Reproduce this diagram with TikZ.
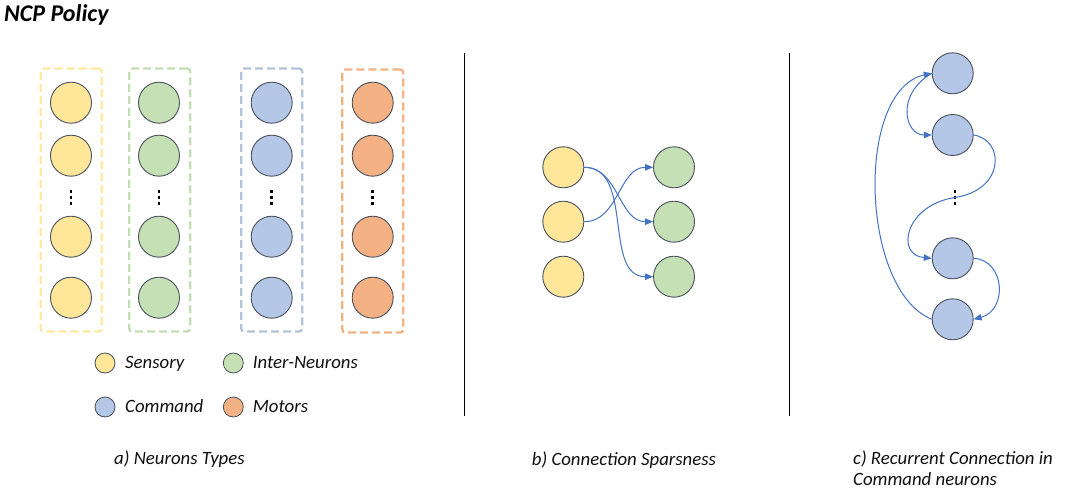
\documentclass[tikz,border=0pt]{standalone}
\usepackage{fontspec}
\setmainfont{Carlito}
\usetikzlibrary{arrows.meta}
\definecolor{ylwfill}{HTML}{FFE699}
\definecolor{grnfill}{HTML}{C5E0B4}
\definecolor{blufill}{HTML}{B4C7E7}
\definecolor{orgfill}{HTML}{F4B183}
\definecolor{ylwline}{HTML}{FFE8A0}
\definecolor{grnline}{HTML}{C5DDB5}
\definecolor{bluline}{HTML}{B5C3DA}
\definecolor{orgline}{HTML}{F1B282}
\definecolor{rim}{HTML}{48505C}
\definecolor{arrowblue}{HTML}{4472C4}
\definecolor{inktext}{HTML}{111111}
\tikzset{
  neuron/.style={circle, draw=rim, line width=0.9pt, minimum size=41pt, inner sep=0pt},
  legdot/.style={circle, draw=rim, line width=0.8pt, minimum size=20pt, inner sep=0pt},
  grpbox/.style={rectangle, rounded corners=3pt, line width=2.3pt, dash pattern=on 8pt off 4pt, minimum width=61pt, minimum height=263pt, inner sep=0pt},
  divider/.style={line width=1pt, draw=black},
  link/.style={draw=arrowblue, line width=1pt, -{Triangle[length=8pt,width=6.5pt]}},
  lbl/.style={font=\fontsize{18.8}{20.5}\selectfont\itshape, text=inktext, inner sep=0pt},
}
\begin{document}
\begin{tikzpicture}[x=1pt,y=-1pt]
\fill[white] (0,0) rectangle (1083,495);
\useasboundingbox (0,0) rectangle (1083,495);

% title
\node[font=\fontsize{24}{28}\selectfont\bfseries\itshape, text=black, anchor=base west, inner sep=0pt] (title) at (4,22) {NCP Policy};

% ---- panel a ----
\node[grpbox, draw=ylwline] (boxS) at (71.2,200) {};
\node[grpbox, draw=grnline] (boxI) at (159.7,200) {};
\node[grpbox, draw=bluline] (boxC) at (271.7,200) {};
\node[grpbox, draw=orgline] (boxM) at (372.8,201) {};

\foreach \cx/\col/\nm in {71/ylwfill/S, 159/grnfill/I, 271.7/blufill/C, 372.7/orgfill/M}{
  \node[neuron, fill=\col] (a\nm1) at (\cx,102.7) {};
  \node[neuron, fill=\col] (a\nm2) at (\cx,155.7) {};
  \node[neuron, fill=\col] (a\nm3) at (\cx,236.7) {};
  \node[neuron, fill=\col] (a\nm4) at (\cx,297.7) {};
  \foreach \dy in {191.5,197.5,203.5}{
    \fill[black] (\cx-1.3,\dy-1.3) rectangle (\cx+1.3,\dy+1.3);
  }
}

% legend
\node[legdot, fill=ylwfill] (lS) at (105,363) {};
\node[lbl, anchor=base west] (tS) at (125,368) {Sensory};
\node[legdot, fill=grnfill] (lI) at (233.3,363) {};
\node[lbl, anchor=base west] (tI) at (252.7,368) {Inter-Neurons};
\node[legdot, fill=blufill] (lC) at (105,407) {};
\node[lbl, anchor=base west] (tC) at (125,412) {Command};
\node[legdot, fill=orgfill] (lM) at (233.3,407) {};
\node[lbl, anchor=base west] (tM) at (252.7,412) {Motors};

\node[lbl, anchor=base west] (capA) at (114,464) {a) Neurons Types};

% dividers
\coordinate (d1t) at (464.5,53);
\coordinate (d1b) at (464.5,416);
\coordinate (d2t) at (789.5,53);
\coordinate (d2b) at (789.5,416);
\draw[divider] (d1t) -- (d1b);
\draw[divider] (d2t) -- (d2b);

% ---- panel b ----
\node[neuron, fill=ylwfill] (bS1) at (563.3,167.3) {};
\node[neuron, fill=ylwfill] (bS2) at (563.3,221.7) {};
\node[neuron, fill=ylwfill] (bS3) at (563.3,276.7) {};
\node[neuron, fill=grnfill] (bI1) at (674,167.3) {};
\node[neuron, fill=grnfill] (bI2) at (674,221.7) {};
\node[neuron, fill=grnfill] (bI3) at (674,276.7) {};

\draw[link] (bS1.east) to[out=0,in=180] (bI2.west);
\draw[link] (bS1.east) to[out=0,in=180] (bI3.west);
\draw[link] (bS2.east) to[out=0,in=180] (bI1.west);

\node[lbl, anchor=base west] (capB) at (531.7,465) {b) Connection Sparsness};

% ---- panel c ----
\node[neuron, fill=blufill] (c1) at (952.7,73.3) {};
\node[neuron, fill=blufill] (c2) at (952.7,135) {};
\node[neuron, fill=blufill] (c3) at (952.7,258.3) {};
\node[neuron, fill=blufill] (c4) at (952.7,319.3) {};
\coordinate (cmid) at (955,197.5);
\foreach \dy in {191.5,197.5,203.5}{
  \fill[black] (955-1.3,\dy-1.3) rectangle (955+1.3,\dy+1.3);
}

\draw[link] (c4.west) .. controls (860,290) and (855,90) .. (c1.west);
\draw[link] (c1.west) .. controls (895,95) and (905,135) .. (c2.west);
\draw[link] (c2.east) .. controls (1005,140) and (1005,190) .. (cmid)
                      .. controls (905,205) and (895,255) .. (c3.west);
\draw[link] (c3.east) .. controls (1005,260) and (1008,310) .. (c4.east);

\node[lbl, anchor=base west, align=left] (capC) at (853,485) {c) Recurrent Connection in\\Command neurons};
\end{tikzpicture}
\end{document}
